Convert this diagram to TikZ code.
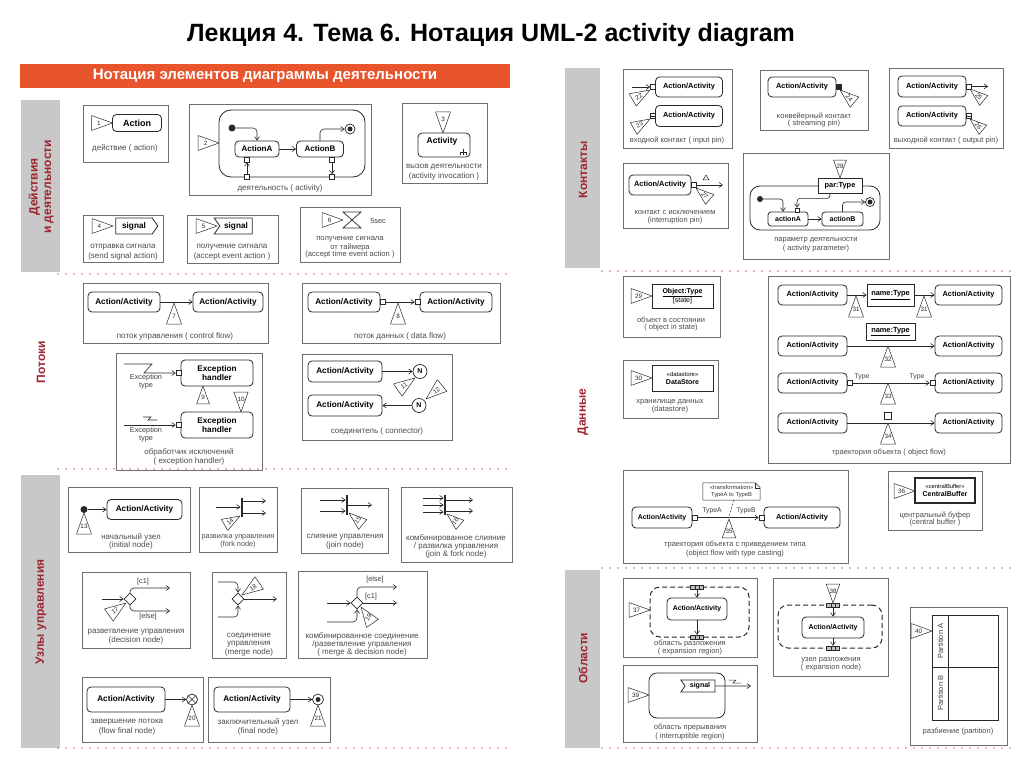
\documentclass[tikz,border=0pt]{standalone}
\usepackage{fontspec}
\setmainfont{Liberation Sans}
\usetikzlibrary{arrows.meta,shapes.geometric,shapes.symbols,calc}
\definecolor{bannerC}{RGB}{232,84,44}
\definecolor{secC}{RGB}{158,36,48}
\definecolor{sepC}{RGB}{222,110,110}
\definecolor{barC}{RGB}{200,200,200}
\definecolor{inkC}{RGB}{40,40,40}
\definecolor{frameC}{RGB}{110,110,110}
\newcount\tricnt
\newcommand\ntri[5][1]{%
  \global\advance\tricnt by 1
  \begin{scope}[shift={(#2)},rotate=#3,scale=#1]
    \draw[tri] (0,0) -- (-21,7.5) -- (-21,-7.5) -- cycle;
    \node[trinum, rotate=#5] (tri\the\tricnt) at (-13.5,0) {#4};
  \end{scope}}
\tikzset{
  frm/.style={draw=frameC, line width=0.6pt},
  act/.style={draw=inkC, line width=0.8pt, rounded corners=4pt, fill=white, inner sep=0pt, align=center, font=\fontsize{8.2}{9}\selectfont\bfseries},
  actr/.style={act, font=\fontsize{7.4}{8.4}\selectfont\bfseries},
  obox/.style={draw=inkC, line width=0.8pt, fill=white, inner sep=0pt, align=center, font=\fontsize{7}{8}\selectfont},
  capt/.style={font=\fontsize{8}{9}\selectfont, text=black!70, align=center, inner sep=0pt},
  captr/.style={font=\fontsize{7.5}{8.5}\selectfont, text=black!70, align=center, inner sep=0pt},
  lbl/.style={font=\fontsize{7.3}{7.9}\selectfont, text=black!75, inner sep=0pt, align=center},
  lblr/.style={lbl, font=\fontsize{6.8}{7.6}\selectfont},
  flw/.style={draw=inkC, line width=0.6pt, -{Straight Barb[length=3.5pt,width=5pt]}},
  ln/.style={draw=inkC, line width=0.6pt},
  pinb/.style={draw=inkC, fill=white, line width=0.6pt, minimum size=5pt, inner sep=0pt},
  sect/.style={font=\fontsize{12}{13.5}\selectfont\bfseries, text=secC, rotate=90, align=center},
  sepl/.style={draw=sepC, line width=1.6pt, dash pattern=on 0pt off 8pt, line cap=round},
  gbar/.style={fill=barC},
  tri/.style={draw=inkC, fill=white, line width=0.5pt, line join=round},
  trinum/.style={font=\fontsize{6.3}{7}\selectfont, text=inkC, inner sep=0pt},
  sigs/.style={shape=signal, draw=inkC, line width=0.8pt, fill=white, inner sep=0pt, font=\fontsize{8.2}{9}\selectfont\bfseries, signal pointer angle=110},
  initn/.style={circle, fill=inkC, minimum size=7pt, inner sep=0pt},
  finn/.style={circle, draw=inkC, line width=0.7pt, fill=white, minimum size=10pt, inner sep=0pt, path picture={\fill[inkC] (path picture bounding box.center) circle (2.5pt);}},
  ffin/.style={circle, draw=inkC, line width=0.7pt, fill=white, minimum size=11pt, inner sep=0pt, path picture={\draw[inkC, line width=0.6pt] (path picture bounding box.north west) -- (path picture bounding box.south east) (path picture bounding box.north east) -- (path picture bounding box.south west);}},
  fbar/.style={fill=inkC, minimum width=2.5pt, inner sep=0pt},
  dia/.style={diamond, draw=inkC, line width=0.7pt, fill=white, minimum width=12pt, minimum height=12pt, inner sep=0pt},
  conn/.style={circle, draw=inkC, line width=0.7pt, fill=white, minimum size=14pt, inner sep=0pt, font=\fontsize{7}{8}\selectfont\bfseries},
  expn/.style={draw=inkC, fill=black!25, minimum width=13pt, minimum height=4pt, inner sep=0pt, line width=0.5pt, path picture={\draw[inkC, line width=0.4pt] ([xshift=-2pt]path picture bounding box.north) -- ([xshift=-2pt]path picture bounding box.south) ([xshift=2pt]path picture bounding box.north) -- ([xshift=2pt]path picture bounding box.south);}},
  dreg/.style={draw=inkC, dash pattern=on 5pt off 3pt, line width=1pt, rounded corners=10pt, inner sep=0pt},
}
\begin{document}
\begin{tikzpicture}[x=1pt,y=-1pt]
\fill[white] (0,0) rectangle (1024,767);
\useasboundingbox (0,0) rectangle (1024,767);

% ---------- title, banner, sections
\node[font=\fontsize{25}{28}\selectfont\bfseries] (title) at (491,35) {Лекция 4. Тема 6. Нотация UML-2 activity diagram};
\node[fill=bannerC, minimum width=490pt, minimum height=24pt, inner sep=0pt, font=\fontsize{15}{17}\selectfont\bfseries, text=white] (banner) at (265,76) {Нотация элементов диаграммы деятельности};

\fill[gbar] (21,100) rectangle (60,272);
\fill[gbar] (21,475) rectangle (60,748);
\fill[gbar] (565,68) rectangle (600,268);
\fill[gbar] (565,570) rectangle (600,748);
\node[sect] (s1) at (41,187) {Действия\\и деятельности};
\node[sect] (s2) at (41,362) {Потоки};
\node[sect] (s3) at (41,612) {Узлы управления};
\node[sect] (s4) at (583,170) {Контакты};
\node[sect] (s5) at (583,412) {Данные};
\node[sect] (s6) at (583,658) {Области};

\draw[sepl] (58,274) -- (512,274);
\draw[sepl] (58,469) -- (512,469);
\draw[sepl] (58,748) -- (512,748);
\draw[sepl] (602,271) -- (1010,271);
\draw[sepl] (602,568) -- (1010,568);
\draw[sepl] (602,748) -- (1010,748);

% ---------- A1 action
\draw[frm] (83,105) rectangle (168,162);
\node[act, minimum width=49pt, minimum height=17pt, font=\fontsize{9}{10}\selectfont\bfseries] (a1) at (137,123) {Action};
\ntri{112.5,123}{0}{1}{0}
\node[capt] (ca1) at (125,148) {действие ( action)};

% ---------- A2 activity
\draw[frm] (189,104) rectangle (371,195);
\node[draw=inkC, line width=0.8pt, rounded corners=12pt, minimum width=146pt, minimum height=67pt, inner sep=0pt] (act2) at (292,143.5) {};
\ntri{219,143}{0}{2}{0}
\node[initn] (i2) at (232,128) {};
\node[act, minimum width=44pt, minimum height=16pt, font=\fontsize{8}{9}\selectfont\bfseries] (aA) at (257,149) {ActionA};
\node[act, minimum width=47pt, minimum height=16pt, font=\fontsize{8}{9}\selectfont\bfseries] (aB) at (320,149) {ActionB};
\node[finn] (f2) at (350,129) {};
\node[pinb] (pA1) at (247,159.5) {};
\node[pinb] (pA2) at (247,177) {};
\node[pinb] (pB1) at (332,159.5) {};
\node[pinb] (pB2) at (332,177) {};
\draw[flw, rounded corners=4pt] (i2) -| (aA.north);
\draw[flw] (aA) -- (aB);
\draw[flw, rounded corners=4pt] (aB.north) |- (f2);
\draw[flw] (pA2) -- (pA1);
\draw[flw] (pB1) -- (pB2);
\node[capt] (ca2) at (280,188) {деятельность ( activity)};

% ---------- A3 activity invocation
\draw[frm] (402,103) rectangle (487,183);
\node[act, minimum width=52pt, minimum height=24pt] (a3) at (444,145) {};
\node[font=\fontsize{8.5}{9.5}\selectfont\bfseries, inner sep=0pt] (a3t) at (442,141) {Activity};
\draw[ln] (463,149) -- (463,155) (460,155) -- (460,152) -- (466,152) -- (466,155);
\ntri{443,133}{-90}{3}{0}
\node[capt] (ca3) at (444,167) {вызов деятельности};
\node[capt] (ca3b) at (444,176) {(activity invocation )};

% ---------- A4 send signal
\draw[frm] (83,215) rectangle (163,262);
\node[sigs, signal to=east, minimum width=42pt, minimum height=16pt] (s4n) at (134,226) {signal};
\ntri{113,226}{0}{4}{0}
\node[capt] (ca4) at (123,247) {отправка сигнала};
\node[capt] (ca4b) at (123,256) {(send signal action)};

% ---------- A5 accept event
\draw[frm] (187,215) rectangle (278,263);
\node[sigs, signal from=west, signal to=nowhere, minimum width=38pt, minimum height=16pt] (s5n) at (236,226) {signal};
\ntri{217,226}{0}{5}{0}
\node[capt] (ca5) at (232,247) {получение сигнала};
\node[capt] (ca5b) at (232,256) {(accept event action )};

% ---------- A6 time event
\draw[frm] (300,207) rectangle (400,262);
\draw[inkC, line width=0.7pt, fill=white] (343,212) -- (361,212) -- (343,228) -- (361,228) -- cycle;
\ntri{343,220}{0}{6}{0}
\node[lbl] (t6) at (378,221) {5sec};
\node[capt, font=\fontsize{7.6}{8.5}\selectfont] (ca6) at (350,239) {получение сигнала};
\node[capt, font=\fontsize{7.6}{8.5}\selectfont] (ca6b) at (350,247) {от таймера};
\node[capt, font=\fontsize{7.6}{8.5}\selectfont] (ca6c) at (350,255) {(accept time event action )};

% ---------- B1 control flow
\draw[frm] (83,283) rectangle (268,343);
\node[act, minimum width=72pt, minimum height=20pt] (b1a) at (124,302) {Action/Activity};
\node[act, minimum width=70pt, minimum height=20pt] (b1b) at (228,302) {Action/Activity};
\draw[flw] (b1a) -- (b1b);
\ntri{174,303}{90}{7}{0}
\node[capt] (cb1) at (175,336) {поток управления ( control flow)};

% ---------- B2 data flow
\draw[frm] (302,283) rectangle (500,343);
\node[act, minimum width=72pt, minimum height=20pt] (b2a) at (344,302) {Action/Activity};
\node[act, minimum width=72pt, minimum height=20pt] (b2b) at (456,302) {Action/Activity};
\node[pinb] (b2p) at (382.5,302) {};
\node[pinb] (b2q) at (417.5,302) {};
\draw[flw] (b2p) -- (b2q);
\ntri{398,303}{90}{8}{0}
\node[capt] (cb2) at (400,336) {поток данных ( data flow)};

% ---------- B3 exception handler
\draw[frm] (116,353) rectangle (262,470);
\node[act, minimum width=72pt, minimum height=26pt] (eh1) at (217,373) {Exception\\handler};
\node[act, minimum width=72pt, minimum height=26pt] (eh2) at (217,425) {Exception\\handler};
\node[pinb] (ep1) at (178.5,373) {};
\node[pinb] (ep2) at (178.5,425) {};
\coordinate (ex1) at (124,364);
\coordinate (ex2) at (124,425);
\draw[flw] (ex1) -- (152,364) -- (144,373) -- (ep1);
\draw[flw] (ex2) -- (ep2);
\draw[ln] (143,417) -- (151,417) -- (148,420) -- (157,420);
\node[lbl] (et1) at (146,382) {Exception\\type};
\node[lbl] (et2) at (146,435) {Exception\\type};
\ntri[0.85]{203,386}{90}{9}{0}
\ntri[0.95]{241,412}{-90}{10}{0}
\node[capt] (cb3) at (189,452) {обработчик исключений};
\node[capt] (cb3b) at (189,461) {( exception handler)};

% ---------- B4 connector
\draw[frm] (302,354) rectangle (452,440);
\node[act, minimum width=74pt, minimum height=21pt] (b4a) at (345,371.5) {Action/Activity};
\node[act, minimum width=74pt, minimum height=21pt] (b4b) at (345,405.5) {Action/Activity};
\node[conn] (n1) at (420,371.5) {N};
\node[conn] (n2) at (419,405.5) {N};
\draw[flw] (b4a) -- (n1);
\draw[flw] (n2) -- (b4b);
\ntri{415,378}{35}{11}{35}
\ntri{426,399}{-140}{12}{40}
\node[capt] (cb4) at (377,431) {соединитель ( connector)};

% ---------- C1 initial node
\draw[frm] (68,487) rectangle (190,552);
\node[initn] (i13) at (84,509.5) {};
\node[act, minimum width=75pt, minimum height=20pt] (c1a) at (144.5,509.5) {Action/Activity};
\draw[flw] (i13) -- (c1a);
\ntri{84,513}{90}{13}{0}
\node[capt] (cc1) at (131,537) {начальный узел};
\node[capt] (cc1b) at (131,545) {(initial node)};

% ---------- C2 fork
\draw[frm] (199,487) rectangle (277,552);
\node[fbar, minimum height=19pt] (fk) at (242,507) {};
\coordinate (fki) at (216,507);
\coordinate (fko1) at (266,501);
\coordinate (fko2) at (266,513);
\draw[flw] (fki) -- (fk);
\draw[flw] (fk.east |- fko1) -- (fko1);
\draw[flw] (fk.east |- fko2) -- (fko2);
\ntri[0.85]{240,516}{30}{14}{40}
\node[capt, font=\fontsize{7.3}{8.2}\selectfont] (cc2) at (238,537) {развилка управления};
\node[capt, font=\fontsize{7.3}{8.2}\selectfont] (cc2b) at (238,545) {(fork node)};

% ---------- C3 join
\draw[frm] (301,488) rectangle (388,553);
\node[fbar, minimum height=20pt] (jn) at (347,505) {};
\coordinate (jni1) at (320,500);
\coordinate (jni2) at (320,511);
\coordinate (jno) at (372,505);
\draw[flw] (jni1) -- (jni1 -| jn.west);
\draw[flw] (jni2) -- (jni2 -| jn.west);
\draw[flw] (jn) -- (jno);
\ntri[0.85]{349,513}{140}{15}{50}
\node[capt] (cc3) at (345,537) {слияние управления};
\node[capt] (cc3b) at (345,545) {(join node)};

% ---------- C4 join & fork
\draw[frm] (401,487) rectangle (512,562);
\node[fbar, minimum height=20pt] (jf) at (445,505) {};
\coordinate (jfi1) at (423,498);
\coordinate (jfi2) at (423,505);
\coordinate (jfi3) at (423,512);
\coordinate (jfo1) at (473,500);
\coordinate (jfo2) at (473,511);
\draw[flw] (jfi1) -- (jfi1 -| jf.west);
\draw[flw] (jfi2) -- (jfi2 -| jf.west);
\draw[flw] (jfi3) -- (jfi3 -| jf.west);
\draw[flw] (jf.east |- jfo1) -- (jfo1);
\draw[flw] (jf.east |- jfo2) -- (jfo2);
\ntri[0.8]{447,514}{140}{16}{50}
\node[capt] (cc4) at (456,538) {комбинированное слияние};
\node[capt] (cc4b) at (456,546) {/ развилка управления};
\node[capt] (cc4c) at (456,554) {(join \& fork node)};

% ---------- C5 decision
\draw[frm] (82,572) rectangle (190,648);
\node[dia] (dc) at (130,599) {};
\coordinate (dci) at (102,599);
\coordinate (dco1) at (170,588);
\coordinate (dco2) at (170,611);
\draw[flw] (dci) -- (dc);
\draw[flw, rounded corners=4pt] (dc.north) |- (dco1);
\draw[flw, rounded corners=4pt] (dc.south) |- (dco2);
\node[lbl] (dl1) at (143,582) {[c1]};
\node[lbl] (dl2) at (148,617) {[else]};
\ntri{126,603}{35}{17}{35}
\node[capt] (cc5) at (136,632) {разветвление управления};
\node[capt] (cc5b) at (136,640) {(decision node)};

% ---------- C6 merge
\draw[frm] (212,572) rectangle (286,658);
\node[dia] (mg) at (238,599) {};
\coordinate (mgi1) at (218,582);
\coordinate (mgi2) at (218,617);
\coordinate (mgo) at (277,599);
\draw[flw, rounded corners=4pt] (mgi1) -| (mg.north);
\draw[flw, rounded corners=4pt] (mgi2) -| (mg.south);
\draw[flw] (mg) -- (mgo);
\ntri{242,595}{215}{18}{35}
\node[capt] (cc6) at (249,636) {соединение};
\node[capt] (cc6b) at (249,644) {управления};
\node[capt] (cc6c) at (249,652) {(merge node)};

% ---------- C7 merge & decision
\draw[frm] (298,571) rectangle (427,658);
\node[dia] (md) at (357,603) {};
\coordinate (mdi1) at (327,603);
\coordinate (mdi2) at (327,622);
\coordinate (mdo1) at (397,587);
\coordinate (mdo2) at (397,603);
\draw[flw] (mdi1) -- (md);
\draw[flw, rounded corners=4pt] (mdi2) -| (md.south);
\draw[flw, rounded corners=4pt] (md.north) |- (mdo1);
\draw[flw] (md) -- (mdo2);
\node[lbl] (ml1) at (375,580) {[else]};
\node[lbl] (ml2) at (371,597) {[c1]};
\ntri[0.95]{361,607}{125}{19}{55}
\node[capt] (cc7) at (362,636) {комбинированное соединение};
\node[capt] (cc7b) at (362,644) {/разветвление управления};
\node[capt] (cc7c) at (362,652) {( merge \& decision node)};

% ---------- C8 flow final
\draw[frm] (82,677) rectangle (203,742);
\node[act, minimum width=78pt, minimum height=25pt] (c8a) at (126,699.5) {Action/Activity};
\node[ffin] (ff) at (192,699.5) {};
\draw[flw] (c8a) -- (ff);
\ntri{192,705}{90}{20}{0}
\node[capt] (cc8) at (127,722) {завершение потока};
\node[capt] (cc8b) at (127,731) {(flow final node)};

% ---------- C9 final
\draw[frm] (208,677) rectangle (330,742);
\node[act, minimum width=76pt, minimum height=25pt] (c9a) at (252,699.5) {Action/Activity};
\node[finn, minimum size=11pt] (fn9) at (318,699.5) {};
\draw[flw] (c9a) -- (fn9);
\ntri{318,705}{90}{21}{0}
\node[capt] (cc9) at (258,722) {заключительный узел};
\node[capt] (cc9b) at (258,731) {(final node)};

% ---------- D1 input pin
\draw[frm] (623,69) rectangle (732,148);
\node[actr, minimum width=67pt, minimum height=20pt] (d1a) at (689,87) {Action/Activity};
\node[pinb] (d1p) at (653,87) {};
\coordinate (d1i) at (632,87);
\draw[flw] (d1i) -- (d1p);
\ntri[0.95]{650,90}{30}{22}{30}
\node[actr, minimum width=67pt, minimum height=21pt] (d1b) at (689,116) {Action/Activity};
\node[pinb] (d1q) at (653,116) {};
\draw[ln, line width=0.5pt] (d1q.west) -- (d1q.east);
\ntri[0.9]{650,119}{30}{23}{30}
\node[captr] (cd1) at (677,140) {входной контакт ( input pin)};

% ---------- D2 streaming pin
\draw[frm] (760,70) rectangle (868,130);
\node[actr, minimum width=68pt, minimum height=20pt] (d2a) at (802,87) {Action/Activity};
\node[pinb, fill=inkC] (d2p) at (838.5,87) {};
\ntri[0.9]{840,90}{140}{24}{-50}
\node[captr] (cd2) at (814,116) {конвейерный контакт};
\node[captr] (cd2b) at (814,124) {( streaming pin)};

% ---------- D3 output pin
\draw[frm] (889,68) rectangle (1003,148);
\node[actr, minimum width=68pt, minimum height=21pt] (d3a) at (932,86.5) {Action/Activity};
\node[pinb] (d3p) at (968.5,86.5) {};
\coordinate (d3o) at (988,86.5);
\draw[flw] (d3p) -- (d3o);
\ntri[0.85]{970,89}{140}{25}{-50}
\node[actr, minimum width=68pt, minimum height=20pt] (d3b) at (932,116) {Action/Activity};
\node[pinb] (d3q) at (968.5,116) {};
\draw[ln, line width=0.5pt] (d3q.west) -- (d3q.east);
\ntri[0.8]{970,119}{140}{26}{-50}
\node[captr] (cd3) at (946,140) {выходной контакт ( output pin)};

% ---------- D4 interruption pin
\draw[frm] (623,163) rectangle (728,228);
\node[actr, minimum width=62pt, minimum height=20pt] (d4a) at (660,185) {Action/Activity};
\node[pinb] (d4p) at (693.5,185) {};
\coordinate (d4o) at (723,185);
\draw[flw] (d4p) -- (d4o);
\draw[inkC, line width=0.5pt] (703,180) -- (709,180) -- (706,175) -- cycle;
\ntri[0.85]{696,188}{140}{27}{-50}
\node[captr] (cd4) at (675,213) {контакт с исключением};
\node[captr] (cd4b) at (675,221) {(interruption pin)};

% ---------- D5 activity parameter
\draw[frm] (743,153) rectangle (889,259);
\node[draw=inkC, line width=0.8pt, rounded corners=10pt, minimum width=130pt, minimum height=44pt, inner sep=0pt] (act5) at (815,208) {};
\node[obox, font=\fontsize{7.4}{8.4}\selectfont\bfseries, minimum width=44pt, minimum height=15pt] (par) at (840,185.5) {par:Type};
\ntri[0.85]{840,178}{-90}{28}{0}
\node[initn, minimum size=6pt] (i5) at (760,199) {};
\node[actr, minimum width=40pt, minimum height=14pt, rounded corners=3pt, font=\fontsize{7}{8}\selectfont\bfseries] (aA5) at (788,219) {actionA};
\node[actr, minimum width=41pt, minimum height=14pt, rounded corners=3pt, font=\fontsize{7}{8}\selectfont\bfseries] (aB5) at (842.5,219) {actionB};
\node[finn, minimum size=9pt] (f5) at (870,202) {};
\node[pinb, minimum size=4pt] (p5) at (797,210) {};
\draw[flw, rounded corners=3pt] (i5) -| ([xshift=-5pt]aA5.north);
\draw[flw] (aA5) -- (aB5);
\draw[flw, rounded corners=3pt] (aB5.north) |- (f5);
\draw[flw, rounded corners=3pt] ([xshift=-10pt]par.south) -- ++(0,5) -| (p5.north);
\node[captr] (cd5) at (816,240) {параметр деятельности};
\node[captr] (cd5b) at (816,249) {( activity parameter)};

% ---------- E1 object in state
\draw[frm] (623,276) rectangle (720,337);
\node[obox, minimum width=61pt, minimum height=24pt] (e1) at (682.5,296) {\textbf{\underline{Object:Type}}\\{[state]}};
\ntri{652,296}{0}{29}{0}
\node[captr] (ce1) at (671,320) {объект в состоянии};
\node[captr] (ce1b) at (671,328) {( object in state)};

% ---------- E2 datastore
\draw[frm] (623,360) rectangle (718,418);
\node[obox, minimum width=61pt, minimum height=26pt] (e2) at (682.5,378) {{\fontsize{6}{7}\selectfont «datastore»}\\\textbf{DataStore}};
\ntri{652,378}{0}{30}{0}
\node[captr] (ce2) at (670,402) {хранилище данных};
\node[captr] (ce2b) at (670,410) {(datastore)};

% ---------- E3 object flow
\draw[frm] (768,276) rectangle (1010,463);
\node[actr, minimum width=69pt, minimum height=20pt] (L1) at (812.5,295) {Action/Activity};
\node[obox, minimum width=47pt, minimum height=22pt, font=\fontsize{7.4}{8.4}\selectfont\bfseries] (nt1) at (890.5,295) {\underline{name:Type}};
\node[actr, minimum width=67pt, minimum height=20pt] (R1) at (968.5,295) {Action/Activity};
\draw[flw] (L1) -- (nt1);
\draw[flw] (nt1) -- (R1);
\ntri{856,296}{90}{31}{0}
\ntri{924,296}{90}{31}{0}
\node[actr, minimum width=69pt, minimum height=20pt] (L2) at (812.5,346) {Action/Activity};
\node[actr, minimum width=67pt, minimum height=20pt] (R2) at (968.5,346) {Action/Activity};
\node[obox, minimum width=49pt, minimum height=17pt, font=\fontsize{7.4}{8.4}\selectfont\bfseries] (nt2) at (890.5,331.5) {\underline{name:Type}};
\draw[flw] (L2) -- (R2);
\ntri{888,346}{90}{32}{0}
\node[actr, minimum width=69pt, minimum height=20pt] (L3) at (812.5,383) {Action/Activity};
\node[actr, minimum width=67pt, minimum height=20pt] (R3) at (968.5,383) {Action/Activity};
\node[pinb] (pL3) at (849.5,383) {};
\node[pinb] (pR3) at (932.5,383) {};
\draw[flw] (pL3) -- (pR3);
\node[lblr] (ty1) at (862,377) {Type};
\node[lblr] (ty2) at (917,377) {Type};
\ntri{888,383}{90}{33}{0}
\node[actr, minimum width=69pt, minimum height=20pt] (L4) at (812.5,423) {Action/Activity};
\node[actr, minimum width=67pt, minimum height=20pt] (R4) at (968.5,423) {Action/Activity};
\draw[flw] (L4) -- (R4);
\node[pinb, minimum size=7pt] (obj4) at (888,415.5) {};
\ntri{888,423}{90}{34}{0}
\node[captr] (ce3) at (889,453) {траектория объекта ( object flow)};

% ---------- E4 type casting
\draw[frm] (623,470) rectangle (848,563);
\node[inner sep=0pt, minimum width=57pt, minimum height=17pt, align=center, font=\fontsize{5.8}{6.8}\selectfont, text=black!80] (nt) at (731.5,491.5) {«transformation»\\TypeA to TypeB};
\draw[ln, line width=0.5pt] (nt.north west) -- ([xshift=-5pt]nt.north east) -- ([yshift=-5pt]nt.north east) -- (nt.south east) -- (nt.south west) -- cycle;
\draw[ln, line width=0.5pt] ([xshift=-5pt]nt.north east) -- ([xshift=-5pt,yshift=-5pt]nt.north east) -- ([yshift=-5pt]nt.north east);
\node[actr, minimum width=60pt, minimum height=21pt, font=\fontsize{6.9}{8}\selectfont\bfseries] (eL) at (662,517.5) {Action/Activity};
\node[actr, minimum width=76pt, minimum height=21pt] (eR) at (802,517.5) {Action/Activity};
\node[pinb] (epL) at (694.5,517.5) {};
\node[pinb] (epR) at (761.5,517.5) {};
\draw[flw] (epL) -- (epR);
\coordinate (tc) at (729,517.5);
\draw[ln, line width=0.5pt, dash pattern=on 2pt off 1.5pt] ([xshift=2pt]nt.south) -- (tc);
\node[lblr] (ta) at (712,511) {TypeA};
\node[lblr] (tb) at (746,511) {TypeB};
\ntri[0.9]{729,519}{90}{35}{0}
\node[captr] (ce4) at (735,545) {траектория объекта с приведением типа};
\node[captr] (ce4b) at (735,554) {(object flow with type casting)};

% ---------- E5 central buffer
\draw[frm] (888,471) rectangle (982,530);
\node[obox, line width=1.2pt, minimum width=60pt, minimum height=25pt] (cb) at (945,490.5) {{\fontsize{5.8}{6.8}\selectfont «centralBuffer»}\\\textbf{CentralBuffer}};
\ntri{915,491}{0}{36}{0}
\node[captr] (ce5) at (935,515) {центральный буфер};
\node[captr] (ce5b) at (935,523) {(central buffer )};

% ---------- F1 expansion region
\draw[frm] (623,578) rectangle (757,657);
\node[dreg, minimum width=99pt, minimum height=50pt] (er) at (699.5,612) {};
\node[expn] (ex1n) at (697,587) {};
\node[actr, minimum width=60pt, minimum height=22pt, font=\fontsize{6.9}{8}\selectfont\bfseries] (f1a) at (697,609) {Action/Activity};
\node[expn] (ex2n) at (697,637) {};
\draw[flw] (ex1n) -- (f1a);
\draw[flw] (f1a) -- (ex2n);
\ntri{650,610}{0}{37}{0}
\node[captr] (cf1) at (690,644) {область разложения};
\node[captr] (cf1b) at (690,652) {( expansion region)};

% ---------- F2 expansion node
\draw[frm] (773,578) rectangle (888,676);
\node[dreg, minimum width=104pt, minimum height=43pt] (er2) at (830,626.5) {};
\node[expn] (ex3n) at (833,605) {};
\node[actr, minimum width=62pt, minimum height=21pt, font=\fontsize{7}{8}\selectfont\bfseries] (f2a) at (833,627.5) {Action/Activity};
\node[expn] (ex4n) at (833,648) {};
\draw[flw] (ex3n) -- (f2a);
\draw[flw] (f2a) -- (ex4n);
\ntri[0.9]{833,603}{-90}{38}{0}
\node[captr] (cf2) at (831,660) {узел разложения};
\node[captr] (cf2b) at (831,668) {( expansion node)};

% ---------- F3 interruptible region
\draw[frm] (623,665) rectangle (757,742);
\node[draw=inkC, line width=0.8pt, rounded corners=8pt, minimum width=76pt, minimum height=45pt, inner sep=0pt] (ir) at (687,695.5) {};
\node[sigs, signal from=west, signal to=nowhere, minimum width=34pt, minimum height=12pt, font=\fontsize{7}{8}\selectfont\bfseries] (f3s) at (700,686) {signal};
\coordinate (f3o) at (751,686);
\draw[flw] (f3s) -- (f3o);
\draw[ln, line width=0.5pt] (729,680) -- (736,680) -- (733,683) -- (741,683);
\ntri{649,695}{0}{39}{0}
\node[captr] (cf3) at (690,728) {область прерывания};
\node[captr] (cf3b) at (690,737) {( interruptible region)};

% ---------- F4 partition
\draw[frm] (910,607) rectangle (1007,745);
\node[draw=inkC, line width=0.8pt, minimum width=66pt, minimum height=105pt, inner sep=0pt] (pt) at (965,667.5) {};
\draw[ln, line width=0.8pt] ([xshift=17pt]pt.north west) -- ([xshift=17pt]pt.south west);
\draw[ln, line width=0.8pt] (pt.west) -- (pt.east);
\node[rotate=90, font=\fontsize{7.5}{8.5}\selectfont, text=black!75] (pA) at (940.5,641) {Partition A};
\node[rotate=90, font=\fontsize{7.5}{8.5}\selectfont, text=black!75] (pB) at (940.5,693) {Partition B};
\ntri{932,631}{0}{40}{0}
\node[captr] (cf4) at (958,732) {разбиение (partition)};

\end{tikzpicture}
\end{document}
